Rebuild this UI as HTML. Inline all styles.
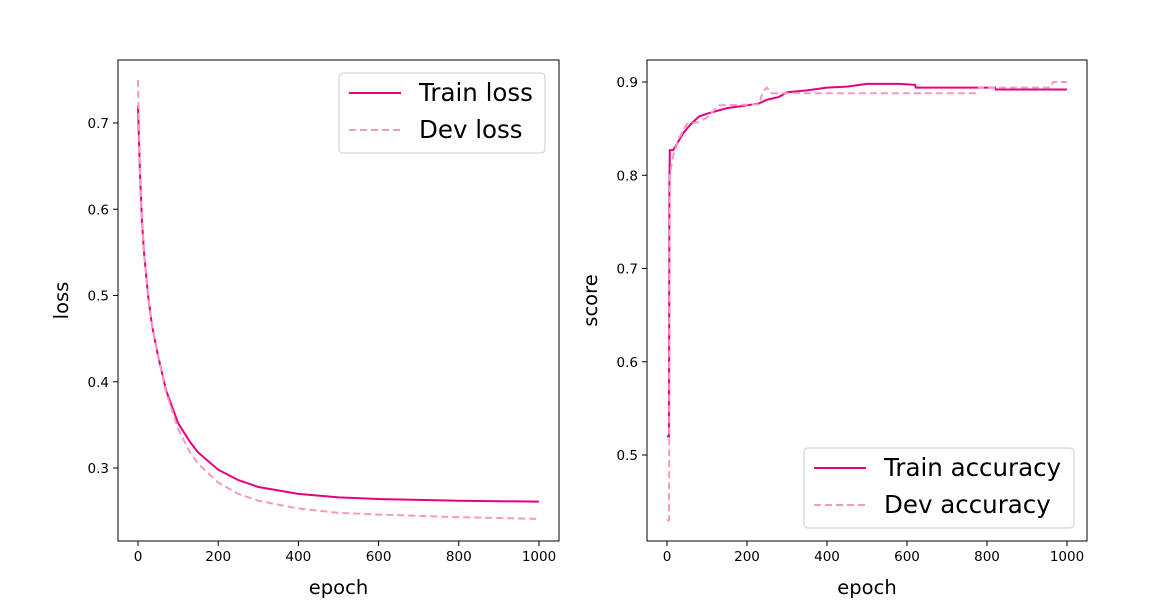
<!DOCTYPE html>
<html><head><meta charset="utf-8"><style>
body{margin:0;background:#fff;width:1167px;height:608px;overflow:hidden}
text{font-family:"DejaVu Sans","Liberation Sans",sans-serif;fill:#000}
</style></head><body>
<svg id="chart" width="1167" height="608" viewBox="0 0 1167 608" xmlns="http://www.w3.org/2000/svg"></svg>
<script>
const lossEpochs=[0,5,10,15,25,35,50,70,100,130,150,200,250,300,400,500,600,700,800,900,1000];
const trainLoss=[0.72,0.64,0.585,0.55,0.5,0.465,0.43,0.39,0.352,0.33,0.318,0.298,0.286,0.278,0.27,0.266,0.264,0.263,0.262,0.2615,0.261];
const devLoss=[0.75,0.64,0.585,0.55,0.5,0.465,0.43,0.388,0.345,0.318,0.305,0.283,0.27,0.262,0.253,0.248,0.246,0.2445,0.243,0.242,0.241];
const trainAccEpochs=[0,5,6,7,15,20,40,60,80,100,150,200,230,250,280,300,350,400,450,500,580,620,622,820,822,1000];
const trainAcc=[0.52,0.52,0.79,0.827,0.827,0.83,0.845,0.855,0.863,0.866,0.872,0.875,0.877,0.881,0.884,0.889,0.891,0.894,0.895,0.898,0.898,0.897,0.894,0.894,0.892,0.892];
const devAccEpochs=[0,5,7,15,30,50,80,100,130,230,240,250,260,770,780,960,965,1000];
const devAcc=[0.43,0.43,0.8,0.82,0.84,0.855,0.857,0.862,0.875,0.876,0.89,0.894,0.888,0.888,0.894,0.894,0.9,0.9];
const xTicks=[0,200,400,600,800,1000];
const lossTicks=[0.3,0.4,0.5,0.6,0.7];
const accTicks=[0.5,0.6,0.7,0.8,0.9];
const C1='#e6007e',C2='#f49ac1';
const svg=document.getElementById('chart');
const NS='http://www.w3.org/2000/svg';
function mk(tag,attrs,parent){const e=document.createElementNS(NS,tag);for(const k in attrs)e.setAttribute(k,attrs[k]);(parent||svg).appendChild(e);return e;}
function panel(name,box,xs,ys,xT,yT,yLabel,yLabX,series,legend){
  const g=mk('g',{});
  
  
  series.forEach(s=>{
    const p=mk('polyline',{points:s.x.map((v,i)=>xs(v)+','+ys(s.y[i])).join(' '),fill:'none',stroke:s.c,'stroke-width':2,'stroke-dasharray':s.d||'none'},g);
    
    
  });
  const fr=mk('rect',{x:box[0],y:box[1],width:box[2]-box[0],height:box[3]-box[1],fill:'none',stroke:'#000','stroke-width':1},g);
  
  
  xT.forEach(t=>{const X=xs(t);mk('line',{x1:X,x2:X,y1:box[3],y2:box[3]+5,stroke:'#000'},g);
    const tx=mk('text',{x:X,y:box[3]+20,'text-anchor':'middle','font-size':13.5},g);tx.textContent=t;
    
    });
  yT.forEach(t=>{const Y=ys(t);mk('line',{x1:box[0]-5,x2:box[0],y1:Y,y2:Y,stroke:'#000'},g);
    const tx=mk('text',{x:box[0]-9,y:Y+5,'text-anchor':'end','font-size':13.5},g);tx.textContent=t.toFixed(1);
    
    });
  const xl=mk('text',{x:(box[0]+box[2])/2,y:594,'text-anchor':'middle','font-size':19.5},g);xl.textContent='epoch';
  
  
  const yl=mk('text',{x:0,y:0,'text-anchor':'middle','font-size':19.5,transform:`translate(${yLabX},${(box[1]+box[3])/2}) rotate(-90)`},g);yl.textContent=yLabel;
  
  
  const lg=mk('g',{},g);
  
  
  mk('rect',{x:legend.x,y:legend.y,width:legend.w,height:80,rx:4,fill:'#fff',stroke:'#ccc'},lg);
  series.forEach((s,i)=>{const Y=legend.y+20+i*37;
    mk('line',{x1:legend.x+10,x2:legend.x+62,y1:Y,y2:Y,stroke:s.c,'stroke-width':2,'stroke-dasharray':s.d||'none'},lg);
    const t=mk('text',{x:legend.x+80,y:Y+8,'font-size':24.5},lg);t.textContent=s.label;
    
    });
}
panel('loss-panel',[118,60,559,541],v=>138+v*0.401,v=>123+(0.7-v)*862.5,xTicks,lossTicks,'loss',68,
 [{name:'train-loss-line',x:lossEpochs,y:trainLoss,c:C1,label:'Train loss'},{name:'dev-loss-line',x:lossEpochs,y:devLoss,c:C2,d:'7,4',label:'Dev loss'}],
 {x:339,y:73,w:206});
panel('accuracy-panel',[647,60,1087,541],v=>667+v*0.4,v=>82+(0.9-v)*932.5,xTicks,accTicks,'score',597,
 [{name:'train-accuracy-line',x:trainAccEpochs,y:trainAcc,c:C1,label:'Train accuracy'},{name:'dev-accuracy-line',x:devAccEpochs,y:devAcc,c:C2,d:'7,4',label:'Dev accuracy'}],
 {x:804,y:448,w:270});
</script>
</body></html>
